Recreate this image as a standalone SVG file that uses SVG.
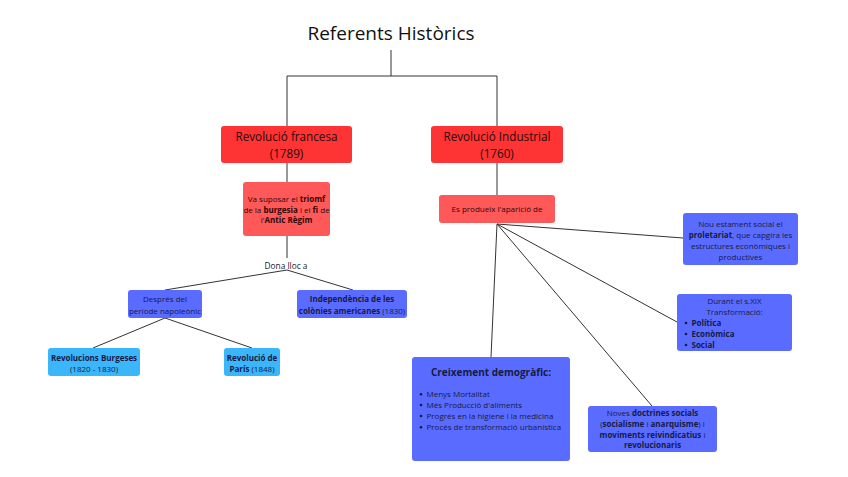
<svg xmlns="http://www.w3.org/2000/svg" width="848" height="477" viewBox="0 0 848 477">
<style>
text{font-family:"Open Sans","Noto Sans","Liberation Sans",sans-serif;}
.red{fill:#fe3434;}
.lred{fill:#ff5858;}
.blue{fill:#5a6cff;}
.lblue{fill:#3bb6fb;}
.t1{font-size:11.7px;fill:#2a0a0a;text-anchor:middle;}
.ts{font-size:8px;fill:#2a0a0a;text-anchor:middle;}
.tb{font-size:8px;fill:#171a45;text-anchor:middle;}
.tl{font-size:8px;fill:#171a45;}
.b{font-weight:bold;}
.conn line,.conn polyline{stroke:#333;stroke-width:1;fill:none;}
</style>
<rect width="848" height="477" fill="#fff"/>
<g class="conn">
<polyline points="391,50 391,76"/>
<polyline points="287,126 287,76 497,76 497,126"/>
<line x1="287" y1="163" x2="287" y2="182"/>
<line x1="497" y1="163" x2="497" y2="195"/>
<line x1="287" y1="236" x2="287" y2="258"/>
<line x1="287" y1="270" x2="165" y2="290"/>
<line x1="287" y1="270" x2="353" y2="290"/>
<line x1="165" y1="318" x2="93" y2="348"/>
<line x1="165" y1="318" x2="252" y2="348"/>
<line x1="497" y1="224" x2="683" y2="238"/>
<line x1="497" y1="224" x2="677" y2="322"/>
<line x1="497" y1="224" x2="652" y2="406"/>
<line x1="497" y1="224" x2="491" y2="357"/>
</g>
<g id="title"><text x="391" y="40" font-size="19" text-anchor="middle" fill="#111">Referents Històrics</text></g>
<g id="rev-francesa">
<rect class="red" x="221" y="126" width="131" height="37" rx="3"/>
<text class="t1" x="286.5" y="141">Revolució francesa</text>
<text class="t1" x="286.5" y="158">(1789)</text>
</g>
<g id="rev-industrial">
<rect class="red" x="431" y="126" width="132" height="37" rx="3"/>
<text class="t1" x="497" y="141">Revolució Industrial</text>
<text class="t1" x="497" y="158">(1760)</text>
</g>
<g id="va-suposar">
<rect class="lred" x="243" y="182" width="87" height="54" rx="3"/>
<text class="ts" x="286.5" y="202">Va suposar el <tspan class="b">triomf</tspan></text>
<text class="ts" x="286.5" y="212.5">de la <tspan class="b">burgesia</tspan> i el <tspan class="b">fi</tspan> de</text>
<text class="ts" x="286.5" y="223">l'<tspan class="b">Antic Règim</tspan></text>
</g>
<g id="dona-lloc"><text x="286" y="269" font-size="8.3" text-anchor="middle" fill="#222">Dona lloc a</text></g>
<g id="es-produeix">
<rect class="lred" x="439" y="195" width="116" height="28" rx="3"/>
<text class="ts" x="497" y="212">Es produeix l'aparició de</text>
</g>
<g id="despres">
<rect class="blue" x="128" y="290" width="74" height="28" rx="3"/>
<text class="tb" x="165" y="302">Després del</text>
<text class="tb" x="165" y="313.5">període napoleònic</text>
</g>
<g id="independencia">
<rect class="blue" x="297" y="290" width="110" height="28" rx="3"/>
<text class="tb b" x="352" y="302">Independència de les</text>
<text class="tb" x="352" y="313.5"><tspan class="b">colònies americanes</tspan> (1830)</text>
</g>
<g id="rev-burgeses">
<rect class="lblue" x="48" y="348" width="92" height="28" rx="3"/>
<text class="tb b" x="94" y="360.5">Revolucions Burgeses</text>
<text class="tb" x="94" y="372">(1820 - 1830)</text>
</g>
<g id="rev-paris">
<rect class="lblue" x="224" y="348" width="56" height="28" rx="3"/>
<text class="tb b" x="252" y="360.5">Revolució de</text>
<text class="tb" x="252" y="372"><tspan class="b">París</tspan> (1848)</text>
</g>
<g id="nou-estament">
<rect class="blue" x="683" y="213" width="115" height="52" rx="3"/>
<text class="tb" x="740.5" y="226.5">Nou estament social el</text>
<text class="tb" x="740.5" y="237.5"><tspan class="b">proletariat</tspan>, que capgira les</text>
<text class="tb" x="740.5" y="248.5">estructures econòmiques i</text>
<text class="tb" x="740.5" y="259.5">productives</text>
</g>
<g id="durant">
<rect class="blue" x="677" y="294" width="115" height="57" rx="3"/>
<text class="tb" x="734.5" y="304">Durant el s.XIX</text>
<text class="tb" x="734.5" y="315">Transformació:</text>
<circle cx="686" cy="323" r="1.3" fill="#171a45"/>
<circle cx="686" cy="334" r="1.3" fill="#171a45"/>
<circle cx="686" cy="345" r="1.3" fill="#171a45"/>
<text class="tl b" x="691.5" y="326">Política</text>
<text class="tl b" x="691.5" y="337">Econòmica</text>
<text class="tl b" x="691.5" y="348">Social</text>
</g>
<g id="creixement">
<rect class="blue" x="412" y="357" width="158" height="104" rx="3"/>
<text x="491" y="375.5" font-size="10" font-weight="bold" text-anchor="middle" fill="#171a45">Creixement demogràfic:</text>
<circle cx="421" cy="394.3" r="1.3" fill="#171a45"/>
<circle cx="421" cy="405" r="1.3" fill="#171a45"/>
<circle cx="421" cy="416" r="1.3" fill="#171a45"/>
<circle cx="421" cy="427.3" r="1.3" fill="#171a45"/>
<text class="tl" x="426.5" y="397.3">Menys Mortalitat</text>
<text class="tl" x="426.5" y="408">Més Producció d'aliments</text>
<text class="tl" x="426.5" y="419">Progrés en la higiene i la medicina</text>
<text class="tl" x="426.5" y="430.3">Procés de transformació urbanística</text>
</g>
<g id="noves-doctrines">
<rect class="blue" x="588" y="406" width="129" height="46" rx="3"/>
<text class="tb" x="652.5" y="416">Noves <tspan class="b">doctrines socials</tspan></text>
<text class="tb" x="652.5" y="427">(<tspan class="b">socialisme</tspan> i <tspan class="b">anarquisme</tspan>) i</text>
<text class="tb" x="652.5" y="437.5"><tspan class="b">moviments reivindicatius</tspan> i</text>
<text class="tb b" x="652.5" y="448">revolucionaris</text>
</g>
</svg>
